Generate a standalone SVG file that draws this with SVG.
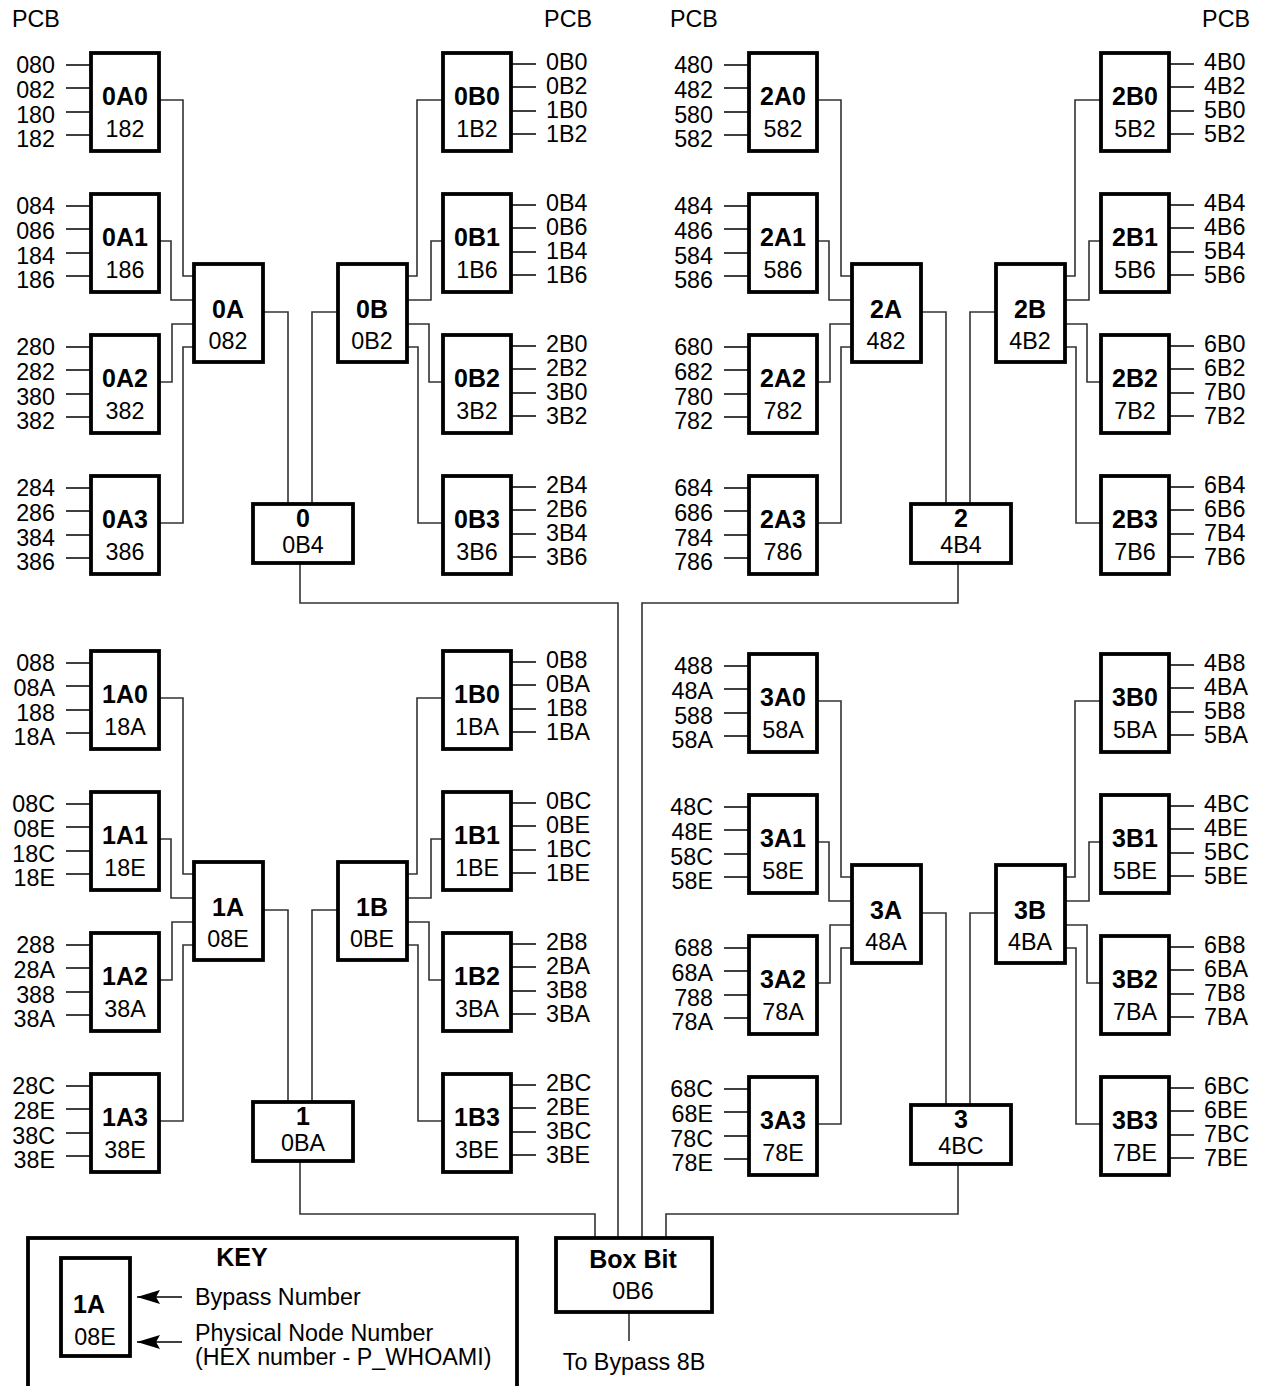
<svg xmlns="http://www.w3.org/2000/svg" width="1263" height="1386" viewBox="0 0 1263 1386">
<defs>
<style>
.box{fill:#fff;stroke:#000;stroke-width:3.8}
.t{font-family:"Liberation Sans",Arial,Helvetica,sans-serif;font-size:23.3px;fill:#000}
.b{font-weight:bold;font-size:25px}
.m{text-anchor:middle}
.e{text-anchor:end}
.in{stroke:#000;stroke-width:1.5;fill:none}
.c{fill:none;stroke:#333;stroke-width:1.6}
</style>
<marker id="ah" markerWidth="24" markerHeight="16" refX="0" refY="7" orient="auto" markerUnits="userSpaceOnUse" overflow="visible">
<polygon points="0,7 23,0 19,7 23,14" fill="#000"/>
</marker>
</defs>
<rect width="1263" height="1386" fill="#fff"/>

<g id="pcb-labels">
<text class="t" x="12" y="27">PCB</text>
<text class="t e" x="592" y="27">PCB</text>
<text class="t" x="670" y="27">PCB</text>
<text class="t e" x="1250" y="27">PCB</text>
</g>

<g id="connectors">
<g id="conn-q0">
<path class="c" d="M159,100H183V276H194M159,241H171V300H194M159,382H172V324H194M159,523H183V347H194"/>
<path class="c" d="M263,312H288V504M338,312H312V504"/>
<path class="c" d="M407,276H417V100H443M407,300H431V241H443M407,324H429V382H443M407,347H418V523H443"/>
</g>
<g id="conn-q2" transform="translate(658,0)">
<path class="c" d="M159,100H183V276H194M159,241H171V300H194M159,382H172V324H194M159,523H183V347H194"/>
<path class="c" d="M263,312H288V504M338,312H312V504"/>
<path class="c" d="M407,276H417V100H443M407,300H431V241H443M407,324H429V382H443M407,347H418V523H443"/>
</g>
<g id="conn-q1" transform="translate(0,598)">
<path class="c" d="M159,100H183V276H194M159,241H171V300H194M159,382H172V324H194M159,523H183V347H194"/>
<path class="c" d="M263,312H288V504M338,312H312V504"/>
<path class="c" d="M407,276H417V100H443M407,300H431V241H443M407,324H429V382H443M407,347H418V523H443"/>
</g>
<g id="conn-q3" transform="translate(658,601)">
<path class="c" d="M159,100H183V276H194M159,241H171V300H194M159,382H172V324H194M159,523H183V347H194"/>
<path class="c" d="M263,312H288V504M338,312H312V504"/>
<path class="c" d="M407,276H417V100H443M407,300H431V241H443M407,324H429V382H443M407,347H418V523H443"/>
</g>
<g id="conn-boxbit">
<path class="c" d="M300,563V603H618V1238"/>
<path class="c" d="M958,563V603H642V1238"/>
<path class="c" d="M300,1161V1214H595V1238"/>
<path class="c" d="M958,1164V1214H666V1238"/>
<path class="c" d="M629,1312V1341"/>
</g>
</g>

<g id="quadrant-0">
<g id="node-0A0"><rect class="box" x="91" y="53" width="68" height="98"/><text class="t b m" x="125" y="105">0A0</text><text class="t m" x="125" y="137">182</text><path class="in" d="M66,65H91M66,88H91M66,112H91M66,135H91"/><text class="t e" x="55" y="73">080</text><text class="t e" x="55" y="98">082</text><text class="t e" x="55" y="123">180</text><text class="t e" x="55" y="147">182</text></g>
<g id="node-0A1"><rect class="box" x="91" y="194" width="68" height="98"/><text class="t b m" x="125" y="246">0A1</text><text class="t m" x="125" y="278">186</text><path class="in" d="M66,206H91M66,229H91M66,253H91M66,276H91"/><text class="t e" x="55" y="214">084</text><text class="t e" x="55" y="239">086</text><text class="t e" x="55" y="264">184</text><text class="t e" x="55" y="288">186</text></g>
<g id="node-0A2"><rect class="box" x="91" y="335" width="68" height="98"/><text class="t b m" x="125" y="387">0A2</text><text class="t m" x="125" y="419">382</text><path class="in" d="M66,347H91M66,370H91M66,394H91M66,417H91"/><text class="t e" x="55" y="355">280</text><text class="t e" x="55" y="380">282</text><text class="t e" x="55" y="405">380</text><text class="t e" x="55" y="429">382</text></g>
<g id="node-0A3"><rect class="box" x="91" y="476" width="68" height="98"/><text class="t b m" x="125" y="528">0A3</text><text class="t m" x="125" y="560">386</text><path class="in" d="M66,488H91M66,511H91M66,535H91M66,558H91"/><text class="t e" x="55" y="496">284</text><text class="t e" x="55" y="521">286</text><text class="t e" x="55" y="546">384</text><text class="t e" x="55" y="570">386</text></g>
<g id="node-0A"><rect class="box" x="194" y="264" width="69" height="98"/><text class="t b m" x="228" y="318">0A</text><text class="t m" x="228" y="349">082</text></g>
<g id="node-0B"><rect class="box" x="338" y="264" width="69" height="98"/><text class="t b m" x="372" y="318">0B</text><text class="t m" x="372" y="349">0B2</text></g>
<g id="node-0"><rect class="box" x="253" y="504" width="100" height="59"/><text class="t b m" x="303" y="527">0</text><text class="t m" x="303" y="553">0B4</text></g>
<g id="node-0B0"><rect class="box" x="443" y="53" width="68" height="98"/><text class="t b m" x="477" y="105">0B0</text><text class="t m" x="477" y="137">1B2</text><path class="in" d="M511,64H536M511,87H536M511,111H536M511,134H536"/><text class="t" x="546" y="70">0B0</text><text class="t" x="546" y="94">0B2</text><text class="t" x="546" y="118">1B0</text><text class="t" x="546" y="142">1B2</text></g>
<g id="node-0B1"><rect class="box" x="443" y="194" width="68" height="98"/><text class="t b m" x="477" y="246">0B1</text><text class="t m" x="477" y="278">1B6</text><path class="in" d="M511,205H536M511,228H536M511,252H536M511,275H536"/><text class="t" x="546" y="211">0B4</text><text class="t" x="546" y="235">0B6</text><text class="t" x="546" y="259">1B4</text><text class="t" x="546" y="283">1B6</text></g>
<g id="node-0B2"><rect class="box" x="443" y="335" width="68" height="98"/><text class="t b m" x="477" y="387">0B2</text><text class="t m" x="477" y="419">3B2</text><path class="in" d="M511,346H536M511,369H536M511,393H536M511,416H536"/><text class="t" x="546" y="352">2B0</text><text class="t" x="546" y="376">2B2</text><text class="t" x="546" y="400">3B0</text><text class="t" x="546" y="424">3B2</text></g>
<g id="node-0B3"><rect class="box" x="443" y="476" width="68" height="98"/><text class="t b m" x="477" y="528">0B3</text><text class="t m" x="477" y="560">3B6</text><path class="in" d="M511,487H536M511,510H536M511,534H536M511,557H536"/><text class="t" x="546" y="493">2B4</text><text class="t" x="546" y="517">2B6</text><text class="t" x="546" y="541">3B4</text><text class="t" x="546" y="565">3B6</text></g>
</g>

<g id="quadrant-2" transform="translate(658,0)">
<g id="node-2A0"><rect class="box" x="91" y="53" width="68" height="98"/><text class="t b m" x="125" y="105">2A0</text><text class="t m" x="125" y="137">582</text><path class="in" d="M66,65H91M66,88H91M66,112H91M66,135H91"/><text class="t e" x="55" y="73">480</text><text class="t e" x="55" y="98">482</text><text class="t e" x="55" y="123">580</text><text class="t e" x="55" y="147">582</text></g>
<g id="node-2A1"><rect class="box" x="91" y="194" width="68" height="98"/><text class="t b m" x="125" y="246">2A1</text><text class="t m" x="125" y="278">586</text><path class="in" d="M66,206H91M66,229H91M66,253H91M66,276H91"/><text class="t e" x="55" y="214">484</text><text class="t e" x="55" y="239">486</text><text class="t e" x="55" y="264">584</text><text class="t e" x="55" y="288">586</text></g>
<g id="node-2A2"><rect class="box" x="91" y="335" width="68" height="98"/><text class="t b m" x="125" y="387">2A2</text><text class="t m" x="125" y="419">782</text><path class="in" d="M66,347H91M66,370H91M66,394H91M66,417H91"/><text class="t e" x="55" y="355">680</text><text class="t e" x="55" y="380">682</text><text class="t e" x="55" y="405">780</text><text class="t e" x="55" y="429">782</text></g>
<g id="node-2A3"><rect class="box" x="91" y="476" width="68" height="98"/><text class="t b m" x="125" y="528">2A3</text><text class="t m" x="125" y="560">786</text><path class="in" d="M66,488H91M66,511H91M66,535H91M66,558H91"/><text class="t e" x="55" y="496">684</text><text class="t e" x="55" y="521">686</text><text class="t e" x="55" y="546">784</text><text class="t e" x="55" y="570">786</text></g>
<g id="node-2A"><rect class="box" x="194" y="264" width="69" height="98"/><text class="t b m" x="228" y="318">2A</text><text class="t m" x="228" y="349">482</text></g>
<g id="node-2B"><rect class="box" x="338" y="264" width="69" height="98"/><text class="t b m" x="372" y="318">2B</text><text class="t m" x="372" y="349">4B2</text></g>
<g id="node-2"><rect class="box" x="253" y="504" width="100" height="59"/><text class="t b m" x="303" y="527">2</text><text class="t m" x="303" y="553">4B4</text></g>
<g id="node-2B0"><rect class="box" x="443" y="53" width="68" height="98"/><text class="t b m" x="477" y="105">2B0</text><text class="t m" x="477" y="137">5B2</text><path class="in" d="M511,64H536M511,87H536M511,111H536M511,134H536"/><text class="t" x="546" y="70">4B0</text><text class="t" x="546" y="94">4B2</text><text class="t" x="546" y="118">5B0</text><text class="t" x="546" y="142">5B2</text></g>
<g id="node-2B1"><rect class="box" x="443" y="194" width="68" height="98"/><text class="t b m" x="477" y="246">2B1</text><text class="t m" x="477" y="278">5B6</text><path class="in" d="M511,205H536M511,228H536M511,252H536M511,275H536"/><text class="t" x="546" y="211">4B4</text><text class="t" x="546" y="235">4B6</text><text class="t" x="546" y="259">5B4</text><text class="t" x="546" y="283">5B6</text></g>
<g id="node-2B2"><rect class="box" x="443" y="335" width="68" height="98"/><text class="t b m" x="477" y="387">2B2</text><text class="t m" x="477" y="419">7B2</text><path class="in" d="M511,346H536M511,369H536M511,393H536M511,416H536"/><text class="t" x="546" y="352">6B0</text><text class="t" x="546" y="376">6B2</text><text class="t" x="546" y="400">7B0</text><text class="t" x="546" y="424">7B2</text></g>
<g id="node-2B3"><rect class="box" x="443" y="476" width="68" height="98"/><text class="t b m" x="477" y="528">2B3</text><text class="t m" x="477" y="560">7B6</text><path class="in" d="M511,487H536M511,510H536M511,534H536M511,557H536"/><text class="t" x="546" y="493">6B4</text><text class="t" x="546" y="517">6B6</text><text class="t" x="546" y="541">7B4</text><text class="t" x="546" y="565">7B6</text></g>
</g>

<g id="quadrant-1" transform="translate(0,598)">
<g id="node-1A0"><rect class="box" x="91" y="53" width="68" height="98"/><text class="t b m" x="125" y="105">1A0</text><text class="t m" x="125" y="137">18A</text><path class="in" d="M66,65H91M66,88H91M66,112H91M66,135H91"/><text class="t e" x="55" y="73">088</text><text class="t e" x="55" y="98">08A</text><text class="t e" x="55" y="123">188</text><text class="t e" x="55" y="147">18A</text></g>
<g id="node-1A1"><rect class="box" x="91" y="194" width="68" height="98"/><text class="t b m" x="125" y="246">1A1</text><text class="t m" x="125" y="278">18E</text><path class="in" d="M66,206H91M66,229H91M66,253H91M66,276H91"/><text class="t e" x="55" y="214">08C</text><text class="t e" x="55" y="239">08E</text><text class="t e" x="55" y="264">18C</text><text class="t e" x="55" y="288">18E</text></g>
<g id="node-1A2"><rect class="box" x="91" y="335" width="68" height="98"/><text class="t b m" x="125" y="387">1A2</text><text class="t m" x="125" y="419">38A</text><path class="in" d="M66,347H91M66,370H91M66,394H91M66,417H91"/><text class="t e" x="55" y="355">288</text><text class="t e" x="55" y="380">28A</text><text class="t e" x="55" y="405">388</text><text class="t e" x="55" y="429">38A</text></g>
<g id="node-1A3"><rect class="box" x="91" y="476" width="68" height="98"/><text class="t b m" x="125" y="528">1A3</text><text class="t m" x="125" y="560">38E</text><path class="in" d="M66,488H91M66,511H91M66,535H91M66,558H91"/><text class="t e" x="55" y="496">28C</text><text class="t e" x="55" y="521">28E</text><text class="t e" x="55" y="546">38C</text><text class="t e" x="55" y="570">38E</text></g>
<g id="node-1A"><rect class="box" x="194" y="264" width="69" height="98"/><text class="t b m" x="228" y="318">1A</text><text class="t m" x="228" y="349">08E</text></g>
<g id="node-1B"><rect class="box" x="338" y="264" width="69" height="98"/><text class="t b m" x="372" y="318">1B</text><text class="t m" x="372" y="349">0BE</text></g>
<g id="node-1"><rect class="box" x="253" y="504" width="100" height="59"/><text class="t b m" x="303" y="527">1</text><text class="t m" x="303" y="553">0BA</text></g>
<g id="node-1B0"><rect class="box" x="443" y="53" width="68" height="98"/><text class="t b m" x="477" y="105">1B0</text><text class="t m" x="477" y="137">1BA</text><path class="in" d="M511,64H536M511,87H536M511,111H536M511,134H536"/><text class="t" x="546" y="70">0B8</text><text class="t" x="546" y="94">0BA</text><text class="t" x="546" y="118">1B8</text><text class="t" x="546" y="142">1BA</text></g>
<g id="node-1B1"><rect class="box" x="443" y="194" width="68" height="98"/><text class="t b m" x="477" y="246">1B1</text><text class="t m" x="477" y="278">1BE</text><path class="in" d="M511,205H536M511,228H536M511,252H536M511,275H536"/><text class="t" x="546" y="211">0BC</text><text class="t" x="546" y="235">0BE</text><text class="t" x="546" y="259">1BC</text><text class="t" x="546" y="283">1BE</text></g>
<g id="node-1B2"><rect class="box" x="443" y="335" width="68" height="98"/><text class="t b m" x="477" y="387">1B2</text><text class="t m" x="477" y="419">3BA</text><path class="in" d="M511,346H536M511,369H536M511,393H536M511,416H536"/><text class="t" x="546" y="352">2B8</text><text class="t" x="546" y="376">2BA</text><text class="t" x="546" y="400">3B8</text><text class="t" x="546" y="424">3BA</text></g>
<g id="node-1B3"><rect class="box" x="443" y="476" width="68" height="98"/><text class="t b m" x="477" y="528">1B3</text><text class="t m" x="477" y="560">3BE</text><path class="in" d="M511,487H536M511,510H536M511,534H536M511,557H536"/><text class="t" x="546" y="493">2BC</text><text class="t" x="546" y="517">2BE</text><text class="t" x="546" y="541">3BC</text><text class="t" x="546" y="565">3BE</text></g>
</g>

<g id="quadrant-3" transform="translate(658,601)">
<g id="node-3A0"><rect class="box" x="91" y="53" width="68" height="98"/><text class="t b m" x="125" y="105">3A0</text><text class="t m" x="125" y="137">58A</text><path class="in" d="M66,65H91M66,88H91M66,112H91M66,135H91"/><text class="t e" x="55" y="73">488</text><text class="t e" x="55" y="98">48A</text><text class="t e" x="55" y="123">588</text><text class="t e" x="55" y="147">58A</text></g>
<g id="node-3A1"><rect class="box" x="91" y="194" width="68" height="98"/><text class="t b m" x="125" y="246">3A1</text><text class="t m" x="125" y="278">58E</text><path class="in" d="M66,206H91M66,229H91M66,253H91M66,276H91"/><text class="t e" x="55" y="214">48C</text><text class="t e" x="55" y="239">48E</text><text class="t e" x="55" y="264">58C</text><text class="t e" x="55" y="288">58E</text></g>
<g id="node-3A2"><rect class="box" x="91" y="335" width="68" height="98"/><text class="t b m" x="125" y="387">3A2</text><text class="t m" x="125" y="419">78A</text><path class="in" d="M66,347H91M66,370H91M66,394H91M66,417H91"/><text class="t e" x="55" y="355">688</text><text class="t e" x="55" y="380">68A</text><text class="t e" x="55" y="405">788</text><text class="t e" x="55" y="429">78A</text></g>
<g id="node-3A3"><rect class="box" x="91" y="476" width="68" height="98"/><text class="t b m" x="125" y="528">3A3</text><text class="t m" x="125" y="560">78E</text><path class="in" d="M66,488H91M66,511H91M66,535H91M66,558H91"/><text class="t e" x="55" y="496">68C</text><text class="t e" x="55" y="521">68E</text><text class="t e" x="55" y="546">78C</text><text class="t e" x="55" y="570">78E</text></g>
<g id="node-3A"><rect class="box" x="194" y="264" width="69" height="98"/><text class="t b m" x="228" y="318">3A</text><text class="t m" x="228" y="349">48A</text></g>
<g id="node-3B"><rect class="box" x="338" y="264" width="69" height="98"/><text class="t b m" x="372" y="318">3B</text><text class="t m" x="372" y="349">4BA</text></g>
<g id="node-3"><rect class="box" x="253" y="504" width="100" height="59"/><text class="t b m" x="303" y="527">3</text><text class="t m" x="303" y="553">4BC</text></g>
<g id="node-3B0"><rect class="box" x="443" y="53" width="68" height="98"/><text class="t b m" x="477" y="105">3B0</text><text class="t m" x="477" y="137">5BA</text><path class="in" d="M511,64H536M511,87H536M511,111H536M511,134H536"/><text class="t" x="546" y="70">4B8</text><text class="t" x="546" y="94">4BA</text><text class="t" x="546" y="118">5B8</text><text class="t" x="546" y="142">5BA</text></g>
<g id="node-3B1"><rect class="box" x="443" y="194" width="68" height="98"/><text class="t b m" x="477" y="246">3B1</text><text class="t m" x="477" y="278">5BE</text><path class="in" d="M511,205H536M511,228H536M511,252H536M511,275H536"/><text class="t" x="546" y="211">4BC</text><text class="t" x="546" y="235">4BE</text><text class="t" x="546" y="259">5BC</text><text class="t" x="546" y="283">5BE</text></g>
<g id="node-3B2"><rect class="box" x="443" y="335" width="68" height="98"/><text class="t b m" x="477" y="387">3B2</text><text class="t m" x="477" y="419">7BA</text><path class="in" d="M511,346H536M511,369H536M511,393H536M511,416H536"/><text class="t" x="546" y="352">6B8</text><text class="t" x="546" y="376">6BA</text><text class="t" x="546" y="400">7B8</text><text class="t" x="546" y="424">7BA</text></g>
<g id="node-3B3"><rect class="box" x="443" y="476" width="68" height="98"/><text class="t b m" x="477" y="528">3B3</text><text class="t m" x="477" y="560">7BE</text><path class="in" d="M511,487H536M511,510H536M511,534H536M511,557H536"/><text class="t" x="546" y="493">6BC</text><text class="t" x="546" y="517">6BE</text><text class="t" x="546" y="541">7BC</text><text class="t" x="546" y="565">7BE</text></g>
</g>

<g id="node-boxbit">
<rect class="box" x="556" y="1238" width="156" height="74"/>
<text class="t b m" x="633" y="1268">Box Bit</text>
<text class="t m" x="633" y="1299">0B6</text>
</g>
<text class="t m" x="634" y="1370">To Bypass 8B</text>

<g id="key">
<rect class="box" x="28" y="1238" width="489" height="200"/>
<text class="t b m" x="242" y="1266">KEY</text>
<rect class="box" x="61" y="1258" width="69" height="98"/>
<text class="t b m" x="89" y="1313">1A</text>
<text class="t m" x="95" y="1345">08E</text>
<line class="in" x1="137" y1="1297" x2="182" y2="1297" marker-start="url(#ah)"/>
<line class="in" x1="137" y1="1342" x2="182" y2="1342" marker-start="url(#ah)"/>
<text class="t" x="195" y="1305">Bypass Number</text>
<text class="t" x="195" y="1341">Physical Node Number</text>
<text class="t" x="195" y="1365">(HEX number - P_WHOAMI)</text>
</g>
</svg>
